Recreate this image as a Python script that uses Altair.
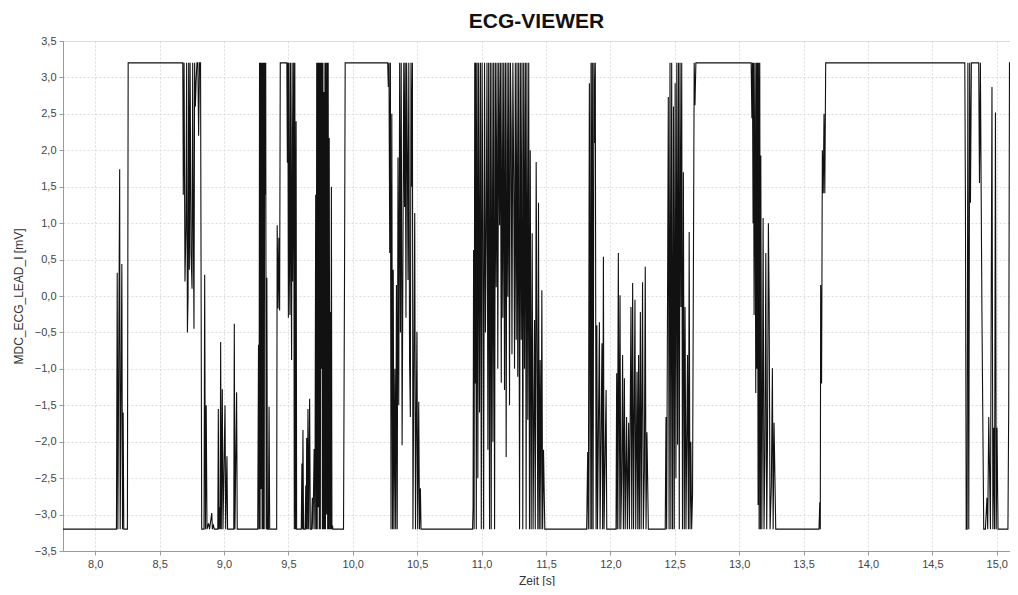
import altair as alt
import pandas as pd

# (time [s], value [mV]), segment by segment
seg_start = [(7.750, -3.2), (8.165, -3.2), (8.171, 0.32), (8.176, -3.2), (8.190, 1.74), (8.194, -3.2),
             (8.207, 0.44), (8.212, -3.2), (8.217, -1.6), (8.222, -3.2), (8.250, -3.2), (8.256, 3.2)]

seg_87 = [(8.680, 3.2), (8.684, 1.39), (8.690, 3.2), (8.697, 0.2), (8.705, 0.97), (8.710, 3.2), (8.716, -0.5),
          (8.721, -0.01), (8.726, 3.2), (8.731, 0.36), (8.737, 3.2), (8.744, 0.6), (8.752, 0.1), (8.757, 3.2),
          (8.762, 1.0), (8.767, -0.45), (8.772, 3.2), (8.778, 2.6), (8.783, 2.92), (8.790, 3.2), (8.797, 3.2),
          (8.803, 2.2), (8.810, 3.2), (8.818, 3.2), (8.827, -3.2), (8.845, -3.2), (8.850, 0.29), (8.856, -3.2),
          (8.862, -1.5), (8.868, -3.2), (8.880, -3.12), (8.888, -3.2), (8.905, -2.98), (8.910, -3.2),
          (8.918, -3.15), (8.925, -3.2), (8.952, -3.2), (8.956, -1.55), (8.960, -3.2), (8.966, -2.9),
          (8.970, -3.2), (8.974, -0.63), (8.979, -3.2), (8.987, -1.28), (8.992, -3.2), (9.008, -1.5),
          (9.013, -3.2), (9.023, -2.2), (9.028, -3.2), (9.076, -3.2), (9.080, -0.38), (9.085, -3.2),
          (9.098, -1.32), (9.103, -3.2)]

seg_93 = [(9.262, -3.2), (9.268, -0.67), (9.272, -3.2), (9.276, 3.2), (9.280, -3.2), (9.284, 3.2), (9.288, -2.65),
          (9.292, 3.2), (9.296, -3.2), (9.300, 3.2), (9.304, -3.2), (9.308, 3.2), (9.312, -3.2), (9.316, 3.2),
          (9.320, 1.39), (9.324, 3.2), (9.328, -3.2), (9.333, 0.25), (9.337, -3.2), (9.345, -3.2), (9.350, -1.52),
          (9.355, -3.2), (9.409, -3.2), (9.413, 0.97), (9.420, -0.17), (9.426, 0.8), (9.432, -0.2), (9.437, 3.2),
          (9.488, 3.2), (9.492, 1.83), (9.496, 3.2), (9.500, -0.3), (9.504, 3.2), (9.508, 0.5), (9.512, -0.26),
          (9.516, 3.2), (9.520, 1.0), (9.525, -0.88), (9.529, 3.2), (9.533, 0.2), (9.537, 1.55), (9.541, 3.2),
          (9.546, -3.2), (9.550, 3.2), (9.555, -3.2), (9.560, 2.4), (9.564, -3.2), (9.600, -3.2), (9.605, -2.3),
          (9.609, -3.2), (9.613, -1.84), (9.618, -3.2), (9.630, -3.2), (9.635, -2.6), (9.639, -3.2), (9.642, -1.95),
          (9.647, -3.2), (9.652, -1.55), (9.657, -3.2), (9.665, -1.41), (9.670, -3.2), (9.680, -3.2),
          (9.686, -2.77), (9.691, -3.2), (9.700, -2.1), (9.706, -3.2)]

seg_97 = [(9.712, 1.39), (9.716, -3.2), (9.720, 3.2), (9.724, -3.2), (9.728, 3.2), (9.732, -2.9), (9.736, 3.2),
          (9.740, -3.2), (9.744, 3.2), (9.748, -3.2), (9.752, 3.2), (9.756, -1.0), (9.760, 3.2), (9.764, -3.2),
          (9.768, 3.2), (9.772, -3.2), (9.776, 2.8), (9.780, -3.2), (9.784, 3.2), (9.788, -3.2), (9.792, 3.2),
          (9.797, -3.0), (9.801, 3.2), (9.805, -3.2), (9.809, 3.2), (9.813, -3.2), (9.817, 2.17), (9.822, -3.2),
          (9.826, -0.22), (9.830, -3.2), (9.834, 1.5), (9.838, -3.2), (9.843, -3.15), (9.845, -3.2),
          (9.928, -3.2), (9.936, 0.36), (9.941, 3.2)]

seg_103 = [(10.271, 3.2), (10.276, 2.87), (10.281, 3.2), (10.287, 0.59), (10.292, 3.2), (10.297, -3.2),
           (10.303, 2.5), (10.309, -3.2), (10.314, 0.36), (10.320, -3.2), (10.327, -1.0), (10.333, -3.2),
           (10.339, 0.15), (10.345, -3.2), (10.351, 1.9), (10.357, -1.5), (10.364, 3.2), (10.370, -0.5),
           (10.376, 3.2), (10.383, -2.05), (10.390, 0.73), (10.396, 3.2), (10.402, 1.22), (10.407, 3.2),
           (10.413, -0.3), (10.418, 3.2), (10.424, 1.9), (10.429, 0.22), (10.435, 3.2), (10.441, -0.9),
           (10.447, -1.66), (10.452, 3.2), (10.458, 1.5), (10.463, 3.2), (10.467, -3.2), (10.481, 1.14),
           (10.487, -3.2), (10.498, -0.49), (10.504, -3.2), (10.512, -1.45), (10.518, -3.2), (10.525, -2.64),
           (10.530, -3.2)]

seg_111 = [(10.930, -3.2), (10.934, -2.9), (10.938, 0.63), (10.942, -3.2), (10.947, 3.2), (10.951, -1.2),
           (10.955, 3.2), (10.959, -3.2), (10.965, 3.2), (10.971, -2.5), (10.977, 3.2), (10.984, -1.6),
           (10.991, 3.2), (10.998, -3.2), (11.004, 3.2), (11.010, 1.07), (11.016, -3.2), (11.023, 3.2),
           (11.030, -0.5), (11.036, 0.88), (11.042, 3.2), (11.049, -2.11), (11.055, 3.2), (11.062, -3.2),
           (11.068, 3.2), (11.075, -3.2), (11.081, 3.2), (11.088, -2.0), (11.094, 3.2), (11.101, -3.2),
           (11.107, 3.2), (11.114, 0.12), (11.120, 3.2), (11.126, -1.0), (11.133, 3.2), (11.140, 0.97),
           (11.146, 3.2), (11.153, -1.19), (11.159, 3.2), (11.165, -0.3), (11.172, 3.2), (11.178, -1.29),
           (11.185, 3.2), (11.191, -2.21), (11.198, 3.2), (11.204, -0.01), (11.211, 3.2), (11.217, -1.5),
           (11.224, 3.2), (11.230, 2.28), (11.236, -0.8), (11.243, 3.2), (11.250, 1.55), (11.256, -1.0),
           (11.262, 3.2), (11.269, -0.6), (11.275, 3.2), (11.281, -1.11), (11.288, 3.2), (11.295, -3.2),
           (11.301, 3.2), (11.308, -0.6), (11.314, 3.2), (11.320, -3.2), (11.327, 3.2), (11.333, -1.0),
           (11.340, 3.2), (11.346, -3.2), (11.352, 3.2), (11.359, -1.7), (11.366, 3.2), (11.372, -3.2),
           (11.378, 2.0), (11.385, -3.2), (11.393, 0.86), (11.400, -3.2), (11.411, -0.33), (11.417, -3.2),
           (11.424, 1.84), (11.432, -1.52), (11.437, -3.2), (11.442, 1.28), (11.448, -3.2), (11.455, -0.88),
           (11.461, -3.2), (11.468, 0.08), (11.474, -3.2), (11.481, -2.11), (11.491, -3.2)]

seg_119 = [(11.816, -3.2), (11.824, -2.14), (11.829, -3.2), (11.837, 2.92), (11.843, -3.2), (11.850, 3.2),
           (11.855, -3.2), (11.860, 3.2), (11.866, -3.2), (11.872, 3.2), (11.878, 2.1), (11.883, 3.2),
           (11.889, -3.2), (11.895, -0.4), (11.900, -3.2), (11.915, -0.36), (11.920, -3.2), (11.935, -0.65),
           (11.940, -3.2), (11.946, 0.54), (11.951, -3.2), (11.967, -1.29), (11.972, -3.2)]

seg_122 = [(12.044, -3.2), (12.049, -1.06), (12.054, -3.2), (12.062, 0.59), (12.068, -3.2), (12.075, 0.01),
           (12.081, -3.2), (12.088, -2.5), (12.095, -0.81), (12.101, -3.2), (12.109, -1.13), (12.115, -3.2),
           (12.126, -1.66), (12.132, -3.2), (12.142, -1.74), (12.148, -3.2), (12.160, -0.15), (12.166, -3.2),
           (12.173, 0.18), (12.180, -3.2), (12.191, -0.05), (12.197, -3.2), (12.207, -1.04), (12.213, -3.2),
           (12.219, -0.81), (12.225, -3.2), (12.233, -0.22), (12.239, -3.2), (12.250, 0.19), (12.256, -3.2),
           (12.264, -2.4), (12.271, 0.4), (12.277, -3.2), (12.284, -1.87), (12.295, -3.2)]

seg_125 = [(12.426, -3.2), (12.432, -1.66), (12.437, -3.2), (12.450, 2.73), (12.456, -3.2), (12.463, 3.2),
           (12.470, -3.2), (12.476, 3.2), (12.483, -3.2), (12.490, 2.6), (12.496, -3.2), (12.503, 2.92),
           (12.509, -2.5), (12.516, 3.2), (12.522, -2.04), (12.529, 3.2), (12.535, -3.2), (12.541, 3.2),
           (12.548, -0.15), (12.554, 3.2), (12.560, -3.2), (12.567, 1.7), (12.574, -3.2), (12.580, -0.15),
           (12.587, -3.2), (12.599, -0.81), (12.606, -3.2), (12.612, 0.88), (12.618, -3.2), (12.625, -2.0),
           (12.631, -3.2), (12.638, -2.73), (12.651, 3.2), (12.657, 2.62), (12.664, 3.2)]

seg_132 = [(13.093, 3.2), (13.099, 2.44), (13.103, 3.2), (13.108, 1.0), (13.111, 3.2), (13.116, -0.26),
           (13.122, 3.2), (13.129, -1.33), (13.133, 3.2), (13.137, -1.0), (13.142, 3.2), (13.147, -2.87),
           (13.151, 3.2), (13.155, -3.2), (13.160, 3.2), (13.165, -3.2), (13.168, 1.93), (13.176, -3.2),
           (13.181, -1.5), (13.186, 1.07), (13.193, -3.2), (13.200, -2.2), (13.207, 0.59), (13.214, -3.2),
           (13.220, -2.0), (13.227, 1.0), (13.233, -0.12), (13.240, -3.2), (13.250, -2.6), (13.258, -0.99),
           (13.264, -3.2), (13.271, -1.74), (13.284, -3.2)]

seg_136 = [(13.620, -3.2), (13.626, -2.83), (13.630, -3.2), (13.633, 0.15), (13.640, -1.2), (13.646, 2.0),
           (13.653, 1.41), (13.659, 2.5), (13.665, 1.41), (13.672, 3.2)]

seg_149 = [(14.752, 3.2), (14.757, 1.28), (14.763, -3.2), (14.770, -3.2), (14.776, 3.2), (14.783, -3.2),
           (14.790, 3.2), (14.796, 1.28), (14.803, 3.2), (14.860, 3.2), (14.866, 1.55), (14.873, 3.2),
           (14.885, -0.22), (14.899, -3.2), (14.912, -3.2), (14.924, -2.77), (14.930, -3.2), (14.938, -1.66),
           (14.951, -3.2), (14.963, 2.87), (14.970, -3.2), (14.977, -1.81), (14.983, -3.2), (14.990, 2.52),
           (14.996, -3.2), (15.002, -1.81), (15.010, -3.2), (15.087, -3.2), (15.093, -1.5), (15.099, 3.2),
           (15.140, 3.2)]

segments = [seg_start, seg_87, seg_93, seg_97, seg_103, seg_111, seg_119, seg_122, seg_125, seg_132,
            seg_136, seg_149]

rows = []
for seg in segments:
    for t, v in seg:
        rows.append({"t": t, "v": v})
df = pd.DataFrame(rows)
df["i"] = range(len(df))

x_ticks = [8.0, 8.5, 9.0, 9.5, 10.0, 10.5, 11.0, 11.5, 12.0, 12.5, 13.0, 13.5, 14.0, 14.5, 15.0]
y_ticks = [-3.5, -3.0, -2.5, -2.0, -1.5, -1.0, -0.5, 0.0, 0.5, 1.0, 1.5, 2.0, 2.5, 3.0, 3.5]

FONT = "Liberation Sans"
comma = "replace(format(datum.value, '.1f'), '.', ',')"

chart = alt.Chart(df).mark_line(color="#111111", strokeWidth=1.1, clip=True).encode(
    x=alt.X("t:Q", scale=alt.Scale(domain=[7.75, 15.103], nice=False, zero=False),
            axis=alt.Axis(title="Zeit [s]", values=x_ticks, labelExpr=comma, labelFont=FONT,
                          labelFontSize=11, labelColor="#444444", titleFont=FONT, titleFontSize=12,
                          titleFontWeight="normal", titleColor="#333333", titleY=29,
                          titleBaseline="middle", domainColor="#9a9a9a", tickColor="#9a9a9a",
                          tickSize=4, labelPadding=3, gridColor="#dcdcdc", gridDash=[2, 2],
                          labelFlush=False)),
    y=alt.Y("v:Q", scale=alt.Scale(domain=[-3.5, 3.5], nice=False, zero=False),
            axis=alt.Axis(title="MDC_ECG_LEAD_I [mV]", values=y_ticks, labelExpr=comma, labelFont=FONT,
                          labelFontSize=11, labelColor="#444444", titleFont=FONT, titleFontSize=12,
                          titleFontWeight="normal", titleColor="#333333", titleX=-45,
                          titleBaseline="middle", domainColor="#9a9a9a", tickColor="#9a9a9a",
                          tickSize=4, labelPadding=3, gridColor="#dcdcdc", gridDash=[2, 2],
                          labelFlush=False)),
    order="i:Q",
).properties(
    width=947,
    height=510,
    title=alt.TitleParams("ECG-VIEWER", font=FONT, fontSize=21, fontWeight="bold", color="#111111",
                          anchor="middle", offset=3),
    autosize=alt.AutoSizeParams(type="none"),
    padding={"left": 55, "top": 33, "right": 0, "bottom": 35},
).configure_view(stroke="#c8c8c8", strokeWidth=1).configure(background="white")

chart.save("out.html", embed_options={"renderer": "svg", "actions": False})
